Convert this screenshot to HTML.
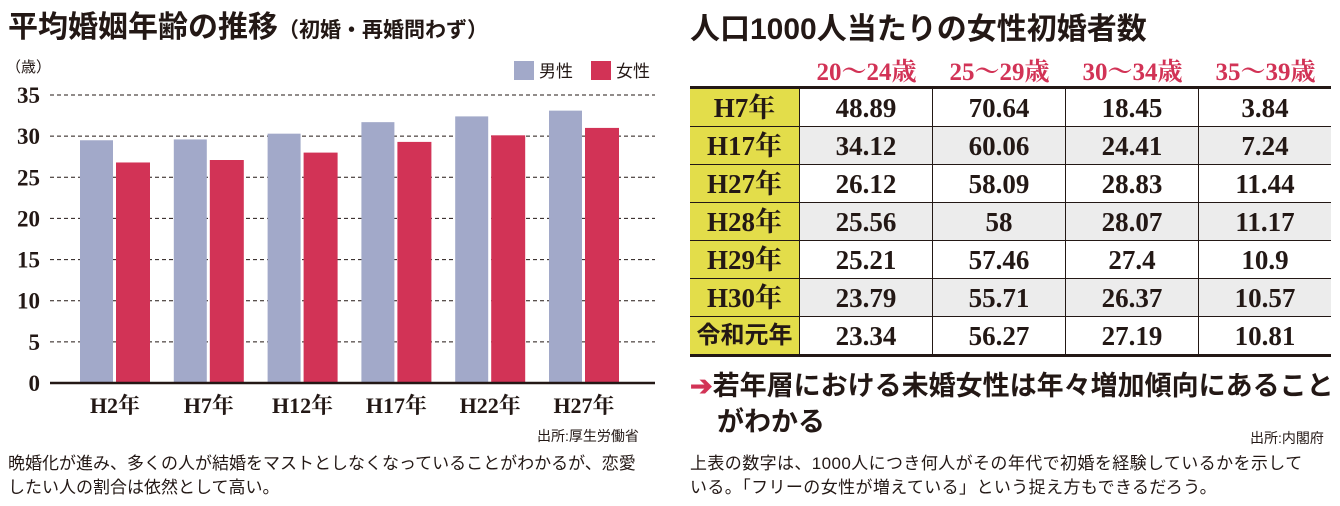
<!DOCTYPE html>
<html><head><meta charset="utf-8"><style>
body{margin:0;width:1340px;height:506px;background:#fff;position:relative;overflow:hidden;font-family:"Liberation Sans","Noto Sans CJK JP",sans-serif;color:#231815}
.a{position:absolute;white-space:nowrap}
.serif{font-family:"Liberation Serif","Noto Serif CJK SC",serif;font-weight:bold}
table{position:absolute;left:690px;top:86px;border-collapse:collapse;border-top:3px solid #231815;border-bottom:3px solid #231815}
td{height:37px;line-height:26px;padding:0;text-align:center;border:1px solid #231815;font-family:"Liberation Serif","Noto Serif CJK SC",serif;font-weight:bold;font-size:27px;overflow:hidden}
td.h{background:#e3dd4a;width:109px;border-left:none}
td.v{width:132px}
td.v:last-child{border-right:none}
tr.g td.v{background:#ececec}
</style></head><body>
<div class="a" style="left:8px;top:2px;font-size:30px;font-weight:bold">平均婚姻年齢の推移<span style="font-size:21px">（初婚・再婚問わず）</span></div>
<div class="a" style="left:6px;top:56px;font-size:15px">（歳）</div>
<div class="a" style="left:514px;top:57px;font-size:17px"><span style="display:inline-block;width:20px;height:19px;background:#a2a9c9;vertical-align:-3px;margin-right:5px"></span>男性</div>
<div class="a" style="left:591px;top:57px;font-size:17px"><span style="display:inline-block;width:20px;height:19px;background:#d23356;vertical-align:-3px;margin-right:5px"></span>女性</div>
<svg id="chart" class="a" style="left:0;top:0" width="670" height="430"></svg>
<div class="a" style="left:537px;top:426px;font-size:14px">出所:厚生労働省</div>
<div class="a" style="left:8px;top:452px;font-size:17px;line-height:24px">晩婚化が進み、多くの人が結婚をマストとしなくなっていることがわかるが、恋愛<br>したい人の割合は依然として高い。</div>

<div class="a" style="left:690px;top:4px;font-size:30px;font-weight:bold">人口1000人当たりの女性初婚者数</div>
<div class="a serif" style="left:800px;top:52px;font-size:25px;color:#d23356">
<span class="a" style="left:0;width:133px;text-align:center">20～24歳</span><span class="a" style="left:133px;width:133px;text-align:center">25～29歳</span><span class="a" style="left:266px;width:133px;text-align:center">30～34歳</span><span class="a" style="left:399px;width:133px;text-align:center">35～39歳</span></div>
<table>
<tr><td class="h">H7年</td><td class="v">48.89</td><td class="v">70.64</td><td class="v">18.45</td><td class="v">3.84</td></tr>
<tr class="g"><td class="h">H17年</td><td class="v">34.12</td><td class="v">60.06</td><td class="v">24.41</td><td class="v">7.24</td></tr>
<tr><td class="h">H27年</td><td class="v">26.12</td><td class="v">58.09</td><td class="v">28.83</td><td class="v">11.44</td></tr>
<tr class="g"><td class="h">H28年</td><td class="v">25.56</td><td class="v">58</td><td class="v">28.07</td><td class="v">11.17</td></tr>
<tr><td class="h">H29年</td><td class="v">25.21</td><td class="v">57.46</td><td class="v">27.4</td><td class="v">10.9</td></tr>
<tr class="g"><td class="h">H30年</td><td class="v">23.79</td><td class="v">55.71</td><td class="v">26.37</td><td class="v">10.57</td></tr>
<tr><td class="h" style="font-family:'Liberation Sans','Noto Sans CJK JP',sans-serif;font-size:24px">令和元年</td><td class="v">23.34</td><td class="v">56.27</td><td class="v">27.19</td><td class="v">10.81</td></tr>
</table>
<div class="a" style="left:690px;top:368px;font-size:27px;font-weight:bold;line-height:36px"><span style="color:#d23356">➔</span>若年層における未婚女性は年々増加傾向にあること<br><span style="padding-left:27px">がわかる</span></div>
<div class="a" style="left:1250px;top:428px;font-size:14px">出所:内閣府</div>
<div class="a" style="left:690px;top:452px;font-size:17px;line-height:24px;letter-spacing:0.4px">上表の数字は、1000人につき何人がその年代で初婚を経験しているかを示して<br>いる。「フリーの女性が増えている」という捉え方もできるだろう。</div>
<script>
const categories=["H2年","H7年","H12年","H17年","H22年","H27年"];
const maleValues=[29.5,29.6,30.3,31.7,32.4,33.1];
const femaleValues=[26.8,27.1,28.0,29.3,30.1,31.0];
const yTicks=[0,5,10,15,20,25,30,35];
const svg=document.getElementById('chart');
const NS='http://www.w3.org/2000/svg';
const y=v=>383-v*(288/35);
const x=i=>80+i*93.8;
function mk(t,a){const e=document.createElementNS(NS,t);for(const k in a)e.setAttribute(k,a[k]);svg.appendChild(e);return e;}
yTicks.forEach(t=>{
 if(t>0){const g=mk('line',{x1:50,x2:655,y1:y(t),y2:y(t),stroke:'#231815','stroke-width':1,'stroke-dasharray':'4,3'});
 
 }
 const l=mk('text',{x:40,y:y(t)+8,'text-anchor':'end','font-family':'Liberation Serif, serif','font-weight':'bold','font-size':23,fill:'#231815'});
 l.textContent=t;
 
 
});
categories.forEach((c,i)=>{
 const m=mk('rect',{x:x(i),y:y(maleValues[i]),width:33,height:y(0)-y(maleValues[i]),fill:'#a2a9c9'});
 
 
 const f=mk('rect',{x:x(i)+36,y:y(femaleValues[i]),width:34,height:y(0)-y(femaleValues[i]),fill:'#d23356'});
 
 
 const l=mk('text',{x:x(i)+35,y:413,'text-anchor':'middle','font-family':'Liberation Serif, Noto Serif CJK SC, serif','font-weight':'bold','font-size':22,fill:'#231815'});
 l.textContent=c;
 
 
});
const ax=mk('line',{x1:50,x2:655,y1:y(0),y2:y(0),stroke:'#231815','stroke-width':2.5});


</script>
</body></html>
